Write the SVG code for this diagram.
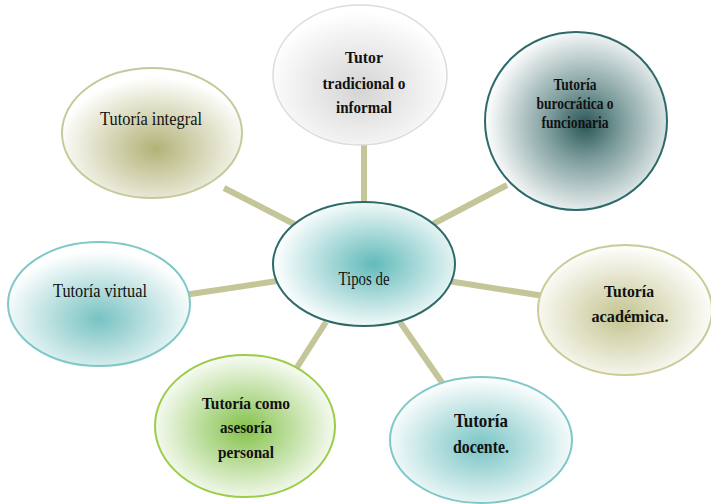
<svg xmlns="http://www.w3.org/2000/svg" width="711" height="504" viewBox="0 0 711 504">
<style>
.conn{stroke:#c4c598;stroke-width:6;stroke-linecap:butt;fill:none}
.t{font-family:"Liberation Serif","Times New Roman",serif;fill:#111;text-anchor:middle}
.b{font-weight:bold}
</style>
<defs>
<radialGradient id="gTop" cx="0.5" cy="0.6" r="0.55"><stop offset="0" stop-color="#d4d4d4"/><stop offset="1" stop-color="#fff"/></radialGradient>
<radialGradient id="gBur" cx="0.55" cy="0.52" r="0.55"><stop offset="0" stop-color="#2a5656"/><stop offset="0.35" stop-color="#7a9a9a"/><stop offset="1" stop-color="#fff"/></radialGradient>
<radialGradient id="gInt" cx="0.52" cy="0.62" r="0.55"><stop offset="0" stop-color="#b2b277"/><stop offset="1" stop-color="#fff"/></radialGradient>
<radialGradient id="gAca" cx="0.48" cy="0.55" r="0.55"><stop offset="0" stop-color="#c4c490"/><stop offset="1" stop-color="#fff"/></radialGradient>
<radialGradient id="gVir" cx="0.5" cy="0.62" r="0.55"><stop offset="0" stop-color="#78c2c2"/><stop offset="1" stop-color="#fff"/></radialGradient>
<radialGradient id="gCom" cx="0.5" cy="0.52" r="0.55"><stop offset="0" stop-color="#84c24a"/><stop offset="1" stop-color="#fff"/></radialGradient>
<radialGradient id="gDoc" cx="0.5" cy="0.55" r="0.55"><stop offset="0" stop-color="#78c4c4"/><stop offset="1" stop-color="#fff"/></radialGradient>
<radialGradient id="gCen" cx="0.55" cy="0.5" r="0.55"><stop offset="0" stop-color="#62baba"/><stop offset="1" stop-color="#fff"/></radialGradient>
</defs>
<g id="connectors">
<line class="conn" x1="364" y1="140" x2="364" y2="206"/>
<line class="conn" x1="224" y1="188" x2="296" y2="225"/>
<line class="conn" x1="433" y1="224" x2="507" y2="185"/>
<line class="conn" x1="184" y1="295" x2="277" y2="281"/>
<line class="conn" x1="448" y1="281" x2="544" y2="296"/>
<line class="conn" x1="326" y1="322" x2="294" y2="372"/>
<line class="conn" x1="400" y1="322" x2="443" y2="384"/>
</g>
<g id="node-tradicional">
<ellipse cx="360" cy="75" rx="87" ry="70" fill="url(#gTop)" stroke="#dcdcdc" stroke-width="1.5"/>
<text class="t b" font-size="17" x="364" y="63" textLength="38" lengthAdjust="spacingAndGlyphs">Tutor</text>
<text class="t b" font-size="17" x="364" y="89" textLength="83" lengthAdjust="spacingAndGlyphs">tradicional o</text>
<text class="t b" font-size="17" x="364" y="113" textLength="56" lengthAdjust="spacingAndGlyphs">informal</text>
</g>
<g id="node-burocratica">
<ellipse cx="576" cy="121" rx="91" ry="89" fill="url(#gBur)" stroke="#2e6a6a" stroke-width="2"/>
<text class="t b" font-size="16" x="575" y="90" textLength="43" lengthAdjust="spacingAndGlyphs">Tutoría</text>
<text class="t b" font-size="16" x="575" y="109" textLength="77" lengthAdjust="spacingAndGlyphs">burocrática o</text>
<text class="t b" font-size="16" x="575" y="128" textLength="67" lengthAdjust="spacingAndGlyphs">funcionaria</text>
</g>
<g id="node-integral">
<ellipse cx="152" cy="133" rx="90" ry="65" fill="url(#gInt)" stroke="#c8c99a" stroke-width="2"/>
<text class="t" font-size="18" x="151" y="125" textLength="102" lengthAdjust="spacingAndGlyphs">Tutoría integral</text>
</g>
<g id="node-academica">
<ellipse cx="625" cy="310" rx="87" ry="65" fill="url(#gAca)" stroke="#cbcb98" stroke-width="2"/>
<text class="t b" font-size="17" x="629" y="297" textLength="50" lengthAdjust="spacingAndGlyphs">Tutoría</text>
<text class="t b" font-size="17" x="630" y="322" textLength="77" lengthAdjust="spacingAndGlyphs">académica.</text>
</g>
<g id="node-virtual">
<ellipse cx="99" cy="304" rx="91" ry="62" fill="url(#gVir)" stroke="#80c8c8" stroke-width="2"/>
<text class="t" font-size="18" x="100" y="297" textLength="94" lengthAdjust="spacingAndGlyphs">Tutoría virtual</text>
</g>
<g id="node-asesoria">
<ellipse cx="245" cy="426" rx="90" ry="71" fill="url(#gCom)" stroke="#9ccc48" stroke-width="2"/>
<text class="t b" font-size="17" x="246" y="409" textLength="88" lengthAdjust="spacingAndGlyphs">Tutoría como</text>
<text class="t b" font-size="17" x="246" y="433" textLength="52" lengthAdjust="spacingAndGlyphs">asesoría</text>
<text class="t b" font-size="17" x="246" y="458" textLength="56" lengthAdjust="spacingAndGlyphs">personal</text>
</g>
<g id="node-docente">
<ellipse cx="481" cy="440" rx="91" ry="63" fill="url(#gDoc)" stroke="#80c8c8" stroke-width="2"/>
<text class="t b" font-size="19" x="481" y="427" textLength="54" lengthAdjust="spacingAndGlyphs">Tutoría</text>
<text class="t b" font-size="19" x="481" y="453" textLength="56" lengthAdjust="spacingAndGlyphs">docente.</text>
</g>
<g id="node-center">
<ellipse cx="364" cy="264" rx="91" ry="62" fill="url(#gCen)" stroke="#2e6a6a" stroke-width="2"/>
<text class="t" font-size="18" x="364" y="285" textLength="51" lengthAdjust="spacingAndGlyphs">Tipos de</text>
</g>
</svg>
